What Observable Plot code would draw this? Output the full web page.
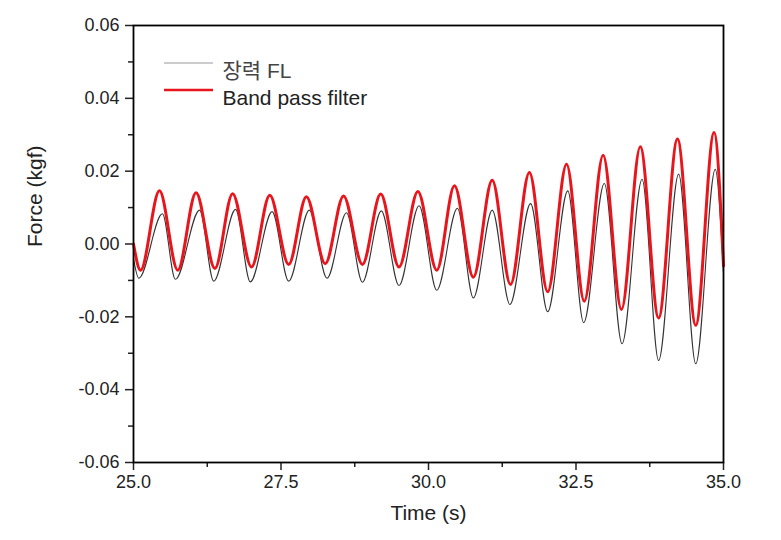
<!DOCTYPE html>
<html>
<head>
<meta charset="utf-8">
<script src="https://cdn.jsdelivr.net/npm/d3@7"></script>
<script src="https://cdn.jsdelivr.net/npm/@observablehq/plot@0.6"></script>
<style>
  html, body { margin: 0; padding: 0; background: #fff; }
  #chart { width: 781px; height: 540px; }
</style>
</head>
<body>
<div id="chart"></div>
<script>
// ---- Data (time in s, force in kgf) ----
const seriesNames = ["장력 FL", "Band pass filter"];

// Raw tension signal (장력 FL): start/end values and extrema
const rawStart = [25.0, -0.004];
const rawEnd = [35.0, -0.008];
const rawPeakT = [25.49, 26.12, 26.73, 27.35, 27.98, 28.61, 29.20, 29.84, 30.49, 31.08, 31.73, 32.36, 32.98, 33.62, 34.24, 34.86];
const rawPeakV = [0.0083, 0.0093, 0.0095, 0.0089, 0.0093, 0.0086, 0.0091, 0.0105, 0.0098, 0.0093, 0.0111, 0.0146, 0.0166, 0.0178, 0.0192, 0.0205];
const rawTroughT = [25.09, 25.71, 26.36, 26.98, 27.63, 28.28, 28.88, 29.50, 30.14, 30.76, 31.38, 32.02, 32.63, 33.28, 33.90, 34.53];
const rawTroughV = [-0.0094, -0.0097, -0.0102, -0.0104, -0.0102, -0.0094, -0.0105, -0.0114, -0.0127, -0.0148, -0.0166, -0.0186, -0.0216, -0.0274, -0.0320, -0.0329];

// Band pass filtered signal: start/end values and extrema
const bpfStart = [25.0, 0.0];
const bpfEnd = [35.0, -0.006];
const bpfPeakT = [25.44, 26.06, 26.68, 27.31, 27.93, 28.56, 29.19, 29.82, 30.44, 31.08, 31.71, 32.34, 32.96, 33.59, 34.22, 34.84];
const bpfPeakV = [0.0146, 0.0141, 0.0138, 0.0134, 0.0130, 0.0132, 0.0137, 0.0144, 0.0160, 0.0175, 0.0196, 0.0219, 0.0244, 0.0267, 0.0288, 0.0306];
const bpfTroughT = [25.12, 25.75, 26.38, 27.00, 27.63, 28.25, 28.88, 29.50, 30.14, 30.76, 31.39, 32.02, 32.64, 33.27, 33.90, 34.53];
const bpfTroughV = [-0.0072, -0.0072, -0.0067, -0.0063, -0.0056, -0.0054, -0.0056, -0.0063, -0.0072, -0.0091, -0.0111, -0.0131, -0.0157, -0.0180, -0.0203, -0.0223];

// Axis ticks
const xMajor = [25, 27.5, 30, 32.5, 35];
const xMinor = [26.25, 28.75, 31.25, 33.75];
const yMajor = [-0.06, -0.04, -0.02, 0, 0.02, 0.04, 0.06];
const yMinor = [-0.05, -0.03, -0.01, 0.01, 0.03, 0.05];

// ---- Build tables ----
function build(start, pT, pV, tT, tV, end) {
  const rows = [{t: start[0], v: start[1]}];
  pT.forEach((t, i) => rows.push({t, v: pV[i]}));
  tT.forEach((t, i) => rows.push({t, v: tV[i]}));
  rows.push({t: end[0], v: end[1]});
  return rows.sort((a, b) => a.t - b.t);
}
const raw = build(rawStart, rawPeakT, rawPeakV, rawTroughT, rawTroughV, rawEnd);
const bpf = build(bpfStart, bpfPeakT, bpfPeakV, bpfTroughT, bpfTroughV, bpfEnd);

const RED = "#e8161c";
const RAW = "#333333";
const FONT = "'Liberation Sans', Arial, 'Noto Sans CJK KR', sans-serif";
const locale = d3.formatLocale({decimal: ".", thousands: ",", grouping: [3], currency: ["", ""], minus: "-"});
const fx = locale.format(".1f");
const fy = locale.format(".2f");

const chart = Plot.plot({
  width: 781,
  height: 540,
  marginLeft: 133,
  marginRight: 58,
  marginTop: 25,
  marginBottom: 78,
  style: {fontFamily: FONT, fontSize: "18px", color: "#222", background: "#fff"},
  x: {domain: [25, 35]},
  y: {domain: [-0.06, 0.06]},
  marks: [
    Plot.axisX({ticks: xMajor, tickFormat: fx, tickSize: 8, tickPadding: 5, strokeWidth: 1.5, label: null, fontSize: 18}),
    Plot.axisX({ticks: xMinor, tickFormat: () => "", tickSize: 5, strokeWidth: 1.5, label: null}),
    Plot.axisY({ticks: yMajor, tickFormat: fy, tickSize: 8, tickPadding: 6, strokeWidth: 1.5, label: null, fontSize: 18}),
    Plot.axisY({ticks: yMinor, tickFormat: () => "", tickSize: 5, strokeWidth: 1.5, label: null}),
    Plot.line(raw, {x: "t", y: "v", curve: "monotone-x", stroke: RAW, strokeWidth: 1.1}),
    Plot.line(bpf, {x: "t", y: "v", curve: "monotone-x", stroke: RED, strokeWidth: 3}),
    Plot.frame({stroke: "#000", strokeWidth: 1.8}),
    Plot.text(["Time (s)"], {frameAnchor: "bottom", dy: 57, fontSize: 21, fill: "#222"}),
    Plot.text(["Force (kgf)"], {frameAnchor: "left", dx: -98, dy: 3, rotate: -90, fontSize: 21, fill: "#222"}),
    Plot.text([seriesNames[0]], {frameAnchor: "top-left", dx: 89, dy: 38, textAnchor: "start", fontSize: 21, fill: "#444"}),
    Plot.text([seriesNames[1]], {frameAnchor: "top-left", dx: 89, dy: 65, textAnchor: "start", fontSize: 21, fill: "#222"})
  ]
});

// legend sample lines
const svg = d3.select(chart);
const g = svg.append("g");
g.append("line").attr("x1", 164).attr("x2", 213).attr("y1", 63).attr("y2", 63)
  .attr("stroke", "#999").attr("stroke-width", 1.2);
g.append("line").attr("x1", 164).attr("x2", 213).attr("y1", 90).attr("y2", 90)
  .attr("stroke", RED).attr("stroke-width", 2.5);

document.getElementById("chart").appendChild(chart);
</script>
</body>
</html>
